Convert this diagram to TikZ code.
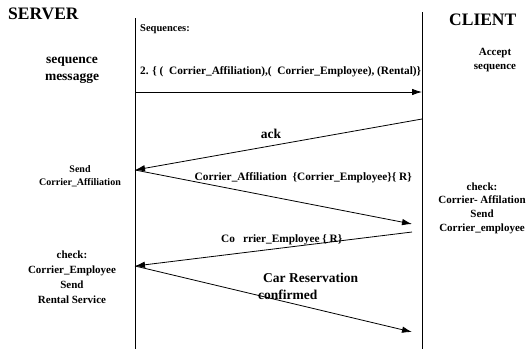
\documentclass[tikz,border=0pt]{standalone}
\usepackage{fontspec}
\setmainfont{Liberation Serif}
\usetikzlibrary{arrows.meta, positioning, calc}

\begin{document}
\begin{tikzpicture}[x=1pt, y=-1pt, >={Latex[length=10pt, width=6.5pt]}]
    \tikzstyle{side} = [font=\fontsize{17.5}{20}\selectfont\bfseries, inner sep=0pt]
    \tikzstyle{note} = [align=center, inner sep=0pt, font=\fontsize{11}{14}\selectfont\bfseries]
    \tikzstyle{bignote} = [align=center, inner sep=0pt, font=\fontsize{13.5}{17}\selectfont\bfseries]
    \tikzstyle{label} = [inner sep=0pt, font=\fontsize{11.3}{13}\selectfont\bfseries]
    \tikzstyle{lifeline} = [draw, line width=0.8pt]
    \tikzstyle{msg} = [draw, ->, line width=0.8pt]

    \useasboundingbox (0,0) rectangle (526,349);

    \node [side, anchor=west] (srv) at (8,14) {SERVER};
    \node [side, anchor=west] (cli) at (449,20) {CLIENT};

    % life lines
    \coordinate (stop) at (135,18);
    \coordinate (sbot) at (135,349);
    \coordinate (ctop) at (422,12);
    \coordinate (cbot) at (422,349);
    \path [lifeline] (stop) -- (sbot);
    \path [lifeline] (ctop) -- (cbot);

    % message ends
    \coordinate (seqs) at (135,92);
    \coordinate (seqe) at (422,92);
    \coordinate (acks) at (422,119);
    \coordinate (acke) at (135,170);
    \coordinate (affe) at (412,224);
    \coordinate (emps) at (412,232);
    \coordinate (empe) at (135,266);
    \coordinate (rese) at (412,332);

    \node [label, font=\fontsize{10.5}{13}\selectfont\bfseries, anchor=west] (seqtitle) at (140,29) {Sequences:};
    \node [label, anchor=west] (seqlist) at (140,72) {2. \{ (\ \ Corrier\_Affiliation),(\ \ Corrier\_Employee), (Rental)\}};

    \node [bignote] (seqmsg) at (72,70) {sequence\\messagge};
    \node [note] (accept) at (495,60) {Accept\\sequence};
    \node [note, font=\fontsize{10}{13}\selectfont\bfseries] (sendaff) at (80,176) {Send\\Corrier\_Affiliation};
    \node [note, font=\fontsize{11}{13.7}\selectfont\bfseries] (chkaff) at (482,208) {check:\\Corrier- Affilation\\Send\\Corrier\_employee};
    \node [note, font=\fontsize{11}{15}\selectfont\bfseries] (chkemp) at (72,277) {check:\\Corrier\_Employee\\Send\\Rental Service};

    \path [msg] (seqs) -- (seqe);
    \path [msg] (acks) -- (acke);
    \path [msg] (acke) -- (affe);
    \path [msg] (emps) -- (empe);
    \path [msg] (empe) -- (rese);

    \node [bignote] (ack) at (271,134) {ack};
    \node [label, anchor=east] (afflabel) at (412,178) {Corrier\_Affiliation\ \ \{Corrier\_Employee\}\{ R\}};
    \node [label, anchor=west] (emplabel) at (221,240) {Co\hspace{8pt}rrier\_Employee \{ R\}};
    \node [bignote, align=left, anchor=west] (reslabel) at (258,286) {\hspace{5pt}Car Reservation\\confirmed};
\end{tikzpicture}
\end{document}
